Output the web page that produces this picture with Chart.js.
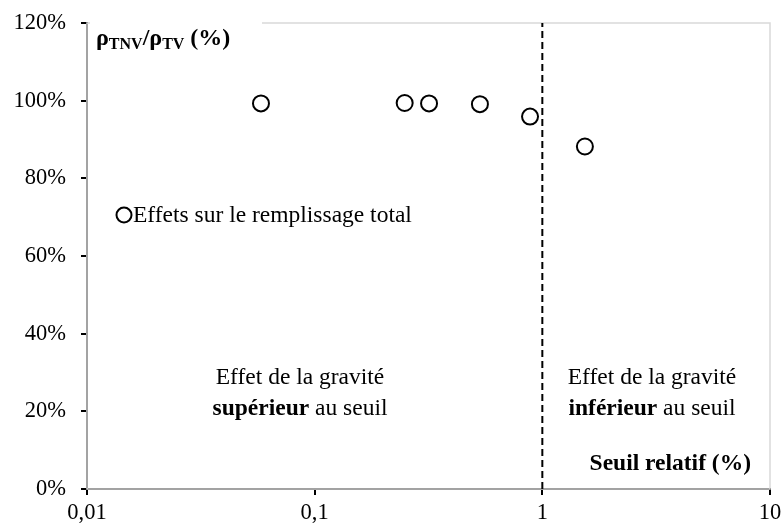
<!DOCTYPE html>
<html>
<head>
<meta charset="utf-8">
<script src="https://cdn.jsdelivr.net/npm/chart.js@4.4.0/dist/chart.umd.min.js"></script>
<style>
  html, body { margin: 0; padding: 0; background: #fff; }
  #wrap { width: 783px; height: 528px; }
</style>
</head>
<body>
<div id="wrap"><canvas id="chart"></canvas></div>
<script>
// Data
var seuilRelatif = [0.0581, 0.2485, 0.318, 0.532, 0.883, 1.538];
var rapportRho = [99.3, 99.4, 99.3, 99.1, 95.9, 88.2];
var xTickValues = [0.01, 0.1, 1, 10];
var yTickValues = [0, 20, 40, 60, 80, 100, 120];
var seuilLine = [1, 1];
var seuilLineY = [0, 120];
var serieLabel = "Effets sur le remplissage total";

var FONT = "'Liberation Serif', 'Times New Roman', serif";

// Build chart points from the arrays
var points = seuilRelatif.map(function (x, i) { return { x: x, y: rapportRho[i] }; });
var seuilPoints = seuilLine.map(function (x, i) { return { x: x, y: seuilLineY[i] }; });

// Gray plot border + annotations + custom legend
var decorPlugin = {
    id: "decor",
    beforeDatasetsDraw: function (chart) {
        var ctx = chart.ctx, a = chart.chartArea;
        ctx.save();
        ctx.strokeStyle = "#d9d9d9";
        ctx.lineWidth = 1.5;
        ctx.strokeRect(a.left, a.top, a.right - a.left, a.bottom - a.top);
        ctx.restore();
    },
    afterDraw: function (chart) {
        var ctx = chart.ctx;
        ctx.save();
        ctx.textBaseline = "alphabetic";

        // y axis title with subscripts
        ctx.fillStyle = "#fff";
        ctx.fillRect(90, 14, 172, 38);
        ctx.fillStyle = "#000";
        var x0 = 96, base = 45;
        var parts = [["ρ", 24, 0], ["TNV", 16, 4], ["/ρ", 24, 0], ["TV", 16, 4], [" (%)", 24, 0]];
        parts.forEach(function (p) {
            ctx.font = "bold " + p[1] + "px " + FONT;
            ctx.fillText(p[0], x0, base + p[2]);
            x0 += ctx.measureText(p[0]).width;
        });

        // x axis title
        ctx.font = "bold 23.5px " + FONT;
        ctx.textAlign = "right";
        ctx.fillText("Seuil relatif (%)", 751, 470);

        // zone texts
        ctx.textAlign = "center";
        var lx = 300, rx = 652;
        ctx.font = "23.5px " + FONT;
        ctx.fillText("Effet de la gravité", lx, 384);
        ctx.fillText("Effet de la gravité", rx, 384);
        function mixed(cx, y, boldTxt, normTxt) {
            ctx.font = "bold 23.5px " + FONT;
            var wb = ctx.measureText(boldTxt).width;
            ctx.font = "23.5px " + FONT;
            var wn = ctx.measureText(normTxt).width;
            var start = cx - (wb + wn) / 2;
            ctx.textAlign = "left";
            ctx.font = "bold 23.5px " + FONT;
            ctx.fillText(boldTxt, start, y);
            ctx.font = "23.5px " + FONT;
            ctx.fillText(normTxt, start + wb, y);
        }
        mixed(lx, 415, "supérieur", " au seuil");
        mixed(rx, 415, "inférieur", " au seuil");

        // legend inside the plot
        var ly = 215;
        ctx.beginPath();
        ctx.arc(124, ly, 7.5, 0, Math.PI * 2);
        ctx.fillStyle = "#fff";
        ctx.fill();
        ctx.lineWidth = 2;
        ctx.strokeStyle = "#000";
        ctx.stroke();
        ctx.fillStyle = "#000";
        ctx.font = "23.5px " + FONT;
        ctx.textAlign = "left";
        ctx.textBaseline = "middle";
        ctx.fillText(serieLabel, 133, ly + 1);
        ctx.restore();
    }
};

var chartOptions = {
    responsive: true,
    maintainAspectRatio: false,
    animation: false,
    layout: { padding: { top: 23, right: 13, left: 0, bottom: 0 } },
    plugins: {
        legend: { display: false },
        tooltip: { enabled: false }
    },
    scales: {
        x: {
            type: "logarithmic",
            min: 0.01,
            max: 10,
            afterBuildTicks: function (scale) {
                scale.ticks = xTickValues.map(function (v) { return { value: v }; });
            },
            afterFit: function (scale) {
                scale.height = 39;
                scale.paddingLeft = 0;
                scale.paddingRight = 0;
            },
            border: { color: "#000", width: 2 },
            grid: { drawOnChartArea: false, drawTicks: true, tickLength: 6, color: "#000", lineWidth: 2 },
            ticks: {
                color: "#000",
                font: { family: FONT, size: 22.5 },
                padding: 5,
                maxRotation: 0,
                autoSkip: false,
                callback: function (v) { return String(v).replace(".", ","); }
            }
        },
        y: {
            min: 0,
            max: 120,
            afterBuildTicks: function (scale) {
                scale.ticks = yTickValues.map(function (v) { return { value: v }; });
            },
            afterFit: function (scale) {
                scale.width = 87;
                scale.paddingTop = 0;
                scale.paddingBottom = 0;
            },
            border: { color: "#000", width: 2 },
            grid: { drawOnChartArea: false, drawTicks: true, tickLength: 6, color: "#000", lineWidth: 2 },
            ticks: {
                color: "#000",
                font: { family: FONT, size: 22.5 },
                padding: 15,
                callback: function (v) { return v + "%"; }
            }
        }
    }
};

var chartData = {
    datasets: [{
        type: "scatter",
        label: serieLabel,
        data: points,
        pointRadius: 8,
        pointBorderWidth: 2,
        pointBorderColor: "#000",
        pointBackgroundColor: "#fff",
        order: 1
    }, {
        type: "line",
        label: "Seuil",
        data: seuilPoints,
        borderColor: "#000",
        borderWidth: 2,
        borderDash: [7, 4],
        pointRadius: 0,
        fill: false,
        order: 2
    }]
};

var config = {
    type: "scatter",
    options: chartOptions,
    data: chartData,
    plugins: [decorPlugin]
};

var ctx = document.getElementById("chart");
var rhoChart = new Chart(ctx, config);
</script>
</body>
</html>
